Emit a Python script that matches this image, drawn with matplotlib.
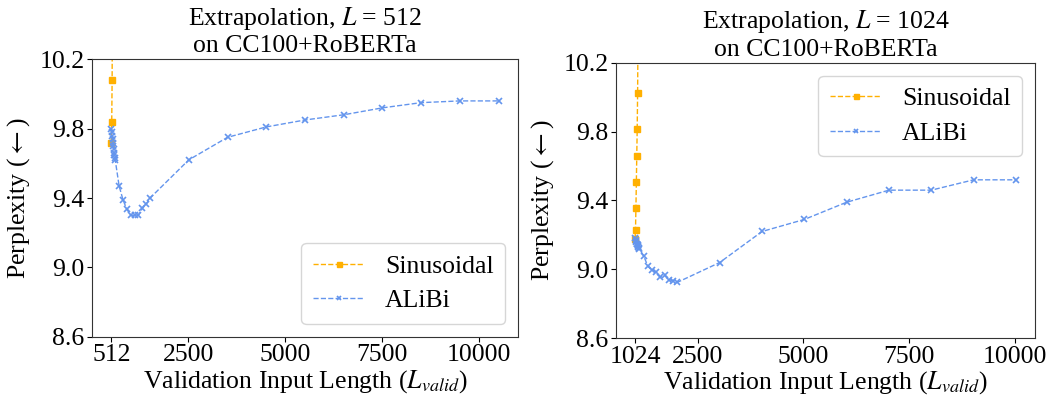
import numpy as np
import matplotlib
matplotlib.use('Agg')
import matplotlib.pyplot as plt

plt.rcParams['font.family'] = ['Liberation Serif', 'DejaVu Serif']
plt.rcParams['mathtext.fontset'] = 'stix'

# ----------------------------------------------------------------
# DATA  (L = 512)
sin512_x = [512, 522, 532, 542]
sin512_y = [9.72, 9.84, 10.08, 10.60]

alibi512_x = [512, 522, 532, 542, 552, 562, 572, 582, 592, 602, 612,
              712, 812, 912, 1012, 1112, 1212, 1312, 1412, 1512,
              2512, 3512, 4512, 5512, 6512, 7512, 8512, 9512, 10512]
alibi512_y = [9.80, 9.78, 9.76, 9.74, 9.72, 9.70, 9.68, 9.66, 9.65, 9.63, 9.62,
              9.47, 9.39, 9.335, 9.30, 9.30, 9.30, 9.34, 9.365, 9.40,
              9.62, 9.75, 9.81, 9.85, 9.88, 9.92, 9.95, 9.96, 9.96]

# DATA  (L = 1024)
sin1024_x = [1024, 1034, 1044, 1054, 1064, 1074, 1084, 1094]
sin1024_y = [9.175, 9.23, 9.355, 9.505, 9.66, 9.815, 10.025, 10.40]

alibi1024_x = [1024, 1034, 1044, 1054, 1064, 1074, 1084, 1094, 1104, 1114, 1124,
               1224, 1324, 1424, 1524, 1624, 1724, 1824, 1924, 2024,
               3024, 4024, 5024, 6024, 7024, 8024, 9024, 10024]
alibi1024_y = [9.18, 9.17, 9.165, 9.16, 9.15, 9.145, 9.14, 9.135, 9.13, 9.125, 9.12,
               9.08, 9.02, 8.995, 8.985, 8.955, 8.965, 8.94, 8.935, 8.925,
               9.04, 9.22, 9.29, 9.39, 9.46, 9.46, 9.52, 9.52]

yticks = [8.6, 9.0, 9.4, 9.8, 10.2]
xticks_512 = [512, 2500, 5000, 7500, 10000]
xticks_1024 = [1024, 2500, 5000, 7500, 10000]

sin_color = '#FFB000'
alibi_color = '#6495ED'
fs = 18.5

# ----------------------------------------------------------------
fig = plt.figure(figsize=(10.5, 3.98), dpi=100)
ax1 = fig.add_axes([0.0876, 0.154, 0.4057, 0.697])
ax2 = fig.add_axes([0.5867, 0.150, 0.3990, 0.6925])


def draw(ax, L, sx, sy, ax_, ay, xticks, legend_loc):
    ax.plot(sx, sy, linestyle='--', marker='s', markersize=4.5, color=sin_color,
            linewidth=1, label='Sinusoidal')
    ax.plot(ax_, ay, linestyle='--', marker='x', markersize=4, markeredgewidth=1.2,
            color=alibi_color, linewidth=1, label='ALiBi')
    ax.set_ylim(8.6, 10.2)
    ax.set_yticks(yticks)
    ax.set_yticklabels(['%.1f' % v for v in yticks])
    ax.set_xticks(xticks)
    ax.set_xticklabels([str(v) for v in xticks])
    ax.tick_params(labelsize=fs, pad=2)
    ax.set_title('Extrapolation, $L$ = %d\non CC100+RoBERTa' % L, fontsize=fs,
                 linespacing=1.2, pad=5)
    ax.set_xlabel(r'Validation Input Length ($L_{valid}$)', fontsize=fs, labelpad=1)
    ax.set_ylabel(r'Perplexity ($\leftarrow$)', fontsize=fs, labelpad=5)
    for sp in ax.spines.values():
        sp.set_color('#333333')
    ax.legend(loc=legend_loc, fontsize=fs, markerscale=0.8, borderpad=0.45,
              handlelength=2.0, labelspacing=0.45)


draw(ax1, 512, sin512_x, sin512_y, alibi512_x, alibi512_y, xticks_512, 'lower right')
draw(ax2, 1024, sin1024_x, sin1024_y, alibi1024_x, alibi1024_y, xticks_1024, 'upper right')

fig.savefig('out.png', dpi=100)
